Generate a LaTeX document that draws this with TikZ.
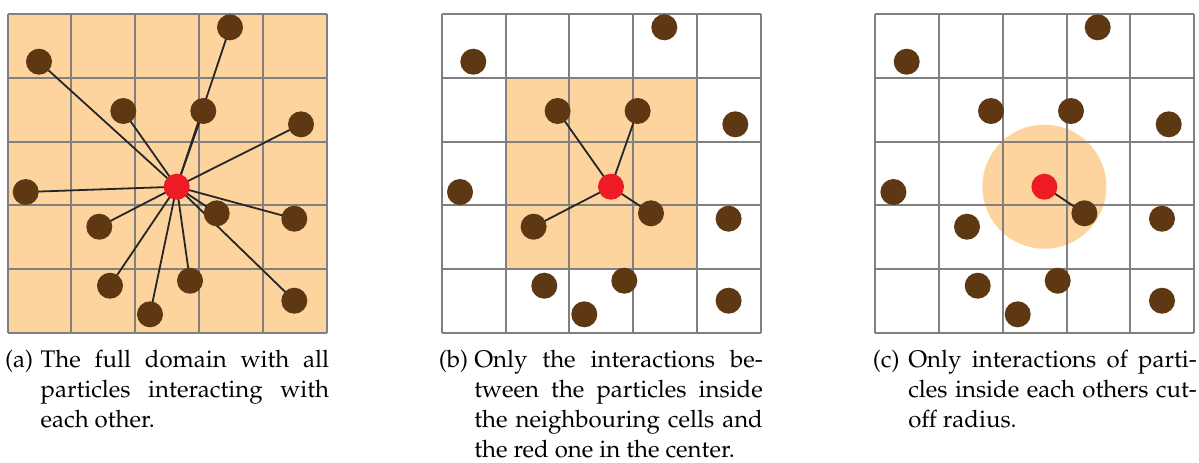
\documentclass[tikz,border=0pt]{standalone}
\usepackage[T1]{fontenc}
\usepackage{mathpazo}
\definecolor{cellorange}{HTML}{FDD49E}
\definecolor{partbrown}{HTML}{5E3713}
\definecolor{partred}{HTML}{ED1C24}
\definecolor{gridgray}{HTML}{808080}
\pgfdeclarelayer{bg}
\pgfdeclarelayer{gridl}
\pgfdeclarelayer{links}
\pgfsetlayers{bg,gridl,links,main}
\newcommand{\subcap}[2]{\makebox[17.7pt][l]{#1}\parbox[t]{144.3pt}{\fontsize{12}{15}\selectfont #2}}
\begin{document}
\begin{tikzpicture}[x=0.5pt,y=-0.5pt,
  particle/.style={circle,fill=partbrown,minimum size=13pt,inner sep=0pt},
  redparticle/.style={circle,fill=partred,minimum size=13pt,inner sep=0pt},
  gridline/.style={draw=gridgray,line width=1pt},
  link/.style={draw=black!85,line width=0.9pt},
  caption/.style={anchor=north west,inner sep=0pt,font=\fontsize{12}{15}\selectfont}]
\useasboundingbox (0,0) rectangle (1199,462);
\foreach \p/\ox in {a/0,b/434.3,c/867.7}{
  \foreach \n/\px/\py in {1/39/61.7,2/230/27.3,3/123.3/111,4/203.3/111,5/301/124.3,
    6/25.7/192,8/99.3/226.7,9/216.7/213.3,10/294.3/218.7,11/110/285.7,
    12/190/280.7,13/150/314.3,14/294.3/300.7}{
    \node[particle] (\p\n) at ({\ox+\px},\py) {};
  }
  \node[redparticle] (\p R) at ({\ox+176.7},186.7) {};
  \begin{pgfonlayer}{gridl}
    \foreach \k in {0,...,5}{
      \draw[gridline] ({\ox+7.5+63.8*\k},14) -- ({\ox+7.5+63.8*\k},333);
      \draw[gridline] ({\ox+7.5},{14+63.8*\k}) -- ({\ox+326.5},{14+63.8*\k});
    }
  \end{pgfonlayer}
}
\begin{pgfonlayer}{bg}
  \fill[cellorange] (7.5,14) rectangle (326.5,333);
  \fill[cellorange] ({434.3+7.5+63.8},{14+63.8}) rectangle ({434.3+7.5+4*63.8},{14+4*63.8});
  \fill[cellorange] (cR.center) circle (31pt);
\end{pgfonlayer}
\begin{pgfonlayer}{links}
  \foreach \n in {1,...,6,8,9,...,14}{\draw[link] (aR.center) -- (a\n.center);}
  \foreach \n in {3,4,8,9}{\draw[link] (bR.center) -- (b\n.center);}
  \draw[link] (cR.center) -- (c9.center);
\end{pgfonlayer}
\node[caption] (capa) at (4.8,350) {\subcap{(a)}{The full domain with all\linebreak particles interacting with\linebreak each other.}};
\node[caption] (capb) at (438.5,350) {\subcap{(b)}{Only the interactions be-\linebreak tween the particles inside\linebreak the neighbouring cells and\linebreak the red one in the center.}};
\node[caption] (capc) at (872.5,350) {\subcap{(c)}{Only interactions of parti-\linebreak cles inside each others cut-\linebreak off radius.}};
\end{tikzpicture}
\end{document}
